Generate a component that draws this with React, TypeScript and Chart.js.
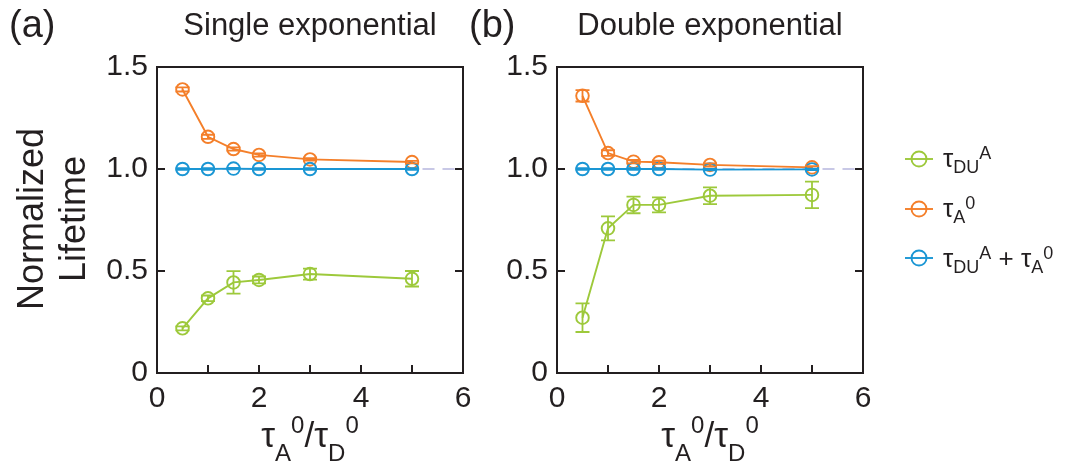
import React, { useEffect, useRef } from 'react';
import { Chart, registerables } from 'chart.js';

Chart.register(...registerables);

// ---------- data ----------
const X_VALUES = [0.5, 1, 1.5, 2, 3, 5];

const SINGLE_DU = [0.219, 0.366, 0.444, 0.456, 0.485, 0.462];
const SINGLE_DU_ERR = [0.01, 0.014, 0.055, 0.017, 0.027, 0.038];
const SINGLE_A0 = [1.39, 1.158, 1.098, 1.069, 1.047, 1.034];
const SINGLE_A0_ERR = [0.01, 0.01, 0.008, 0.008, 0.006, 0.006];
const SINGLE_SUM = [1.0, 1.0, 1.002, 1.0, 1.0, 1.0];
const SINGLE_SUM_ERR = [0.004, 0.004, 0.004, 0.004, 0.004, 0.004];

const DOUBLE_DU = [0.271, 0.709, 0.824, 0.824, 0.869, 0.873];
const DOUBLE_DU_ERR = [0.07, 0.059, 0.041, 0.037, 0.041, 0.065];
const DOUBLE_A0 = [1.359, 1.078, 1.036, 1.033, 1.02, 1.008];
const DOUBLE_A0_ERR = [0.028, 0.014, 0.008, 0.008, 0.008, 0.006];
const DOUBLE_SUM = [1.0, 1.0, 1.0, 1.0, 0.997, 0.998];
const DOUBLE_SUM_ERR = [0.004, 0.004, 0.004, 0.004, 0.004, 0.004];

const REF_LINE_X = [0.5, 6];
const REF_LINE_Y = 1.0;

const X_TICK_LABELS = ['0', '2', '4', '6'];
const Y_TICK_LABELS = ['0', '0.5', '1.0', '1.5'];
const X_INNER_TICKS = [1, 2, 3, 4, 5];
const Y_INNER_TICKS = [0.5, 1.0];

const PANEL_TITLES = ['Single exponential', 'Double exponential'];
const PANEL_LETTERS = ['(a)', '(b)'];

// ---------- style ----------
const FONT = '"Liberation Sans", Arial, Helvetica, sans-serif';
const INK = '#231f20';
const GREEN = '#9dc93b';
const ORANGE = '#f47f2a';
const BLUE = '#1a96d4';
const DASH = '#c8c8e6';

const CANVAS_W = 530;
const CANVAS_H = 467;
const PLOT_TOP = 67;
const Y_AXIS_W = 157;
const X_AXIS_H = 94;
const RIGHT_PAD = 67;

const toPoints = (ys: number[]) => X_VALUES.map((x, i) => ({ x, y: ys[i] }));

const errorBarPlugin = {
  id: 'errorBars',
  afterDatasetsDraw(chart: any) {
    const { ctx, scales } = chart;
    ctx.save();
    chart.data.datasets.forEach((ds: any) => {
      if (!ds.errors) return;
      ctx.strokeStyle = ds.borderColor;
      ctx.lineWidth = 1.8;
      ds.data.forEach((p: any, i: number) => {
        const e = ds.errors[i];
        const px = scales.x.getPixelForValue(p.x);
        const y1 = scales.y.getPixelForValue(p.y + e);
        const y2 = scales.y.getPixelForValue(p.y - e);
        const cap = 7;
        ctx.beginPath();
        ctx.moveTo(px, y1);
        ctx.lineTo(px, y2);
        ctx.moveTo(px - cap, y1);
        ctx.lineTo(px + cap, y1);
        ctx.moveTo(px - cap, y2);
        ctx.lineTo(px + cap, y2);
        ctx.stroke();
      });
    });
    ctx.restore();
  },
};

const framePlugin = {
  id: 'frame',
  afterDraw(chart: any) {
    const { ctx, chartArea, scales } = chart;
    const { left, right, top, bottom } = chartArea;
    ctx.save();
    ctx.strokeStyle = INK;
    ctx.lineWidth = 2;
    ctx.strokeRect(left, top, right - left, bottom - top);
    ctx.beginPath();
    X_INNER_TICKS.forEach((v) => {
      const px = scales.x.getPixelForValue(v);
      ctx.moveTo(px, bottom);
      ctx.lineTo(px, bottom - 8);
    });
    Y_INNER_TICKS.forEach((v) => {
      const py = scales.y.getPixelForValue(v);
      ctx.moveTo(left, py);
      ctx.lineTo(left + 8, py);
      ctx.moveTo(right, py);
      ctx.lineTo(right - 8, py);
    });
    ctx.stroke();
    ctx.restore();
  },
};

function makeSeries(data: number[], err: number[], color: string, order: number) {
  return {
    data: toPoints(data),
    errors: err,
    borderColor: color,
    backgroundColor: 'rgba(0,0,0,0)',
    pointBackgroundColor: 'rgba(0,0,0,0)',
    pointBorderColor: color,
    pointRadius: 6.3,
    pointBorderWidth: 1.9,
    borderWidth: 1.9,
    tension: 0,
    order,
  };
}

function Panel({ left, du, duErr, a0, a0Err, sum, sumErr }: any) {
  const ref = useRef<HTMLCanvasElement | null>(null);
  useEffect(() => {
    if (!ref.current) return;
    const chart = new Chart(ref.current, {
      type: 'line',
      data: {
        datasets: [
          {
            data: REF_LINE_X.map((x) => ({ x, y: REF_LINE_Y })),
            borderColor: DASH,
            borderWidth: 2,
            borderDash: [12, 8],
            pointRadius: 0,
            order: 10,
          } as any,
          makeSeries(du, duErr, GREEN, 3),
          makeSeries(a0, a0Err, ORANGE, 2),
          makeSeries(sum, sumErr, BLUE, 1),
        ],
      },
      options: {
        animation: false,
        responsive: false,
        devicePixelRatio: 1,
        layout: { padding: { top: PLOT_TOP, right: RIGHT_PAD, left: 0, bottom: 0 } },
        plugins: { legend: { display: false }, tooltip: { enabled: false }, title: { display: false } },
        scales: {
          x: {
            type: 'linear',
            min: 0,
            max: 6,
            grid: { display: false, drawTicks: false },
            border: { display: false },
            ticks: {
              stepSize: 2,
              padding: 8,
              color: INK,
              font: { family: FONT, size: 30 },
              maxRotation: 0,
              callback: (_v: any, i: number) => X_TICK_LABELS[i],
            },
            afterFit: (s: any) => {
              s.height = X_AXIS_H;
            },
          },
          y: {
            type: 'linear',
            min: 0,
            max: 1.5,
            grid: { display: false, drawTicks: false },
            border: { display: false },
            ticks: {
              stepSize: 0.5,
              padding: 9,
              color: INK,
              font: { family: FONT, size: 30 },
              callback: (_v: any, i: number) => Y_TICK_LABELS[i],
            },
            afterFit: (s: any) => {
              s.width = Y_AXIS_W;
            },
          },
        },
      } as any,
      plugins: [errorBarPlugin, framePlugin],
    });
    return () => chart.destroy();
  }, []);
  return (
    <canvas
      ref={ref}
      width={CANVAS_W}
      height={CANVAS_H}
      style={{ position: 'absolute', left, top: 0, width: CANVAS_W, height: CANVAS_H }}
    />
  );
}

const abs = (s: any) => ({ position: 'absolute' as const, fontFamily: FONT, color: INK, whiteSpace: 'nowrap' as const, ...s });

function XTitle({ cx }: { cx: number }) {
  const sub = { fontSize: 24, position: 'relative' as const, top: 14 };
  const sup = { fontSize: 24, position: 'relative' as const, top: -14 };
  return (
    <div style={abs({ left: cx - 100, width: 200, top: 418, fontSize: 35, lineHeight: '34px', textAlign: 'center' })}>
      τ<span style={sub}>A</span><span style={sup}>0</span>/τ<span style={sub}>D</span><span style={sup}>0</span>
    </div>
  );
}

function LegendSymbol({ color, top }: { color: string; top: number }) {
  return (
    <svg style={{ position: 'absolute', left: 904, top: top - 10 }} width={30} height={20}>
      <line x1={1} y1={10} x2={29} y2={10} stroke={color} strokeWidth={1.9} />
      <circle cx={15} cy={10} r={7.5} fill="none" stroke={color} strokeWidth={1.9} />
    </svg>
  );
}

function LegendText({ top, children }: any) {
  return (
    <div style={abs({ left: 943, top: top - 15, fontSize: 26, lineHeight: '26px' })}>{children}</div>
  );
}

export default function App() {
  const sub = { fontSize: 18, position: 'relative' as const, top: 6 };
  const sup = { fontSize: 18, position: 'relative' as const, top: -8 };
  return (
    <div style={{ position: 'absolute', left: 0, top: 0, width: 1067, height: 467, background: '#fff', overflow: 'hidden' }}>
      <Panel left={0} du={SINGLE_DU} duErr={SINGLE_DU_ERR} a0={SINGLE_A0} a0Err={SINGLE_A0_ERR} sum={SINGLE_SUM} sumErr={SINGLE_SUM_ERR} />
      <Panel left={400} du={DOUBLE_DU} duErr={DOUBLE_DU_ERR} a0={DOUBLE_A0} a0Err={DOUBLE_A0_ERR} sum={DOUBLE_SUM} sumErr={DOUBLE_SUM_ERR} />

      <div style={abs({ left: 9, top: 5, fontSize: 38, lineHeight: '38px' })}>{PANEL_LETTERS[0]}</div>
      <div style={abs({ left: 469, top: 5, fontSize: 38, lineHeight: '38px' })}>{PANEL_LETTERS[1]}</div>
      <div style={abs({ left: 310 - 150, width: 300, top: 9, fontSize: 31, lineHeight: '31px', textAlign: 'center' })}>{PANEL_TITLES[0]}</div>
      <div style={abs({ left: 710 - 150, width: 300, top: 9, fontSize: 31, lineHeight: '31px', textAlign: 'center' })}>{PANEL_TITLES[1]}</div>

      <div
        style={abs({
          left: 51.5 - 110,
          top: 219 - 42,
          width: 220,
          height: 84,
          fontSize: 36,
          lineHeight: '42px',
          textAlign: 'center',
          transform: 'rotate(-90deg)',
          transformOrigin: 'center',
        })}
      >
        Normalized
        <br />
        Lifetime
      </div>

      <XTitle cx={310} />
      <XTitle cx={710} />

      <LegendSymbol color={GREEN} top={159} />
      <LegendSymbol color={ORANGE} top={209} />
      <LegendSymbol color={BLUE} top={258} />
      <LegendText top={160}>
        τ<span style={sub}>DU</span><span style={sup}>A</span>
      </LegendText>
      <LegendText top={210}>
        τ<span style={sub}>A</span><span style={sup}>0</span>
      </LegendText>
      <LegendText top={260}>
        τ<span style={sub}>DU</span><span style={sup}>A</span> + τ<span style={sub}>A</span><span style={sup}>0</span>
      </LegendText>
    </div>
  );
}
